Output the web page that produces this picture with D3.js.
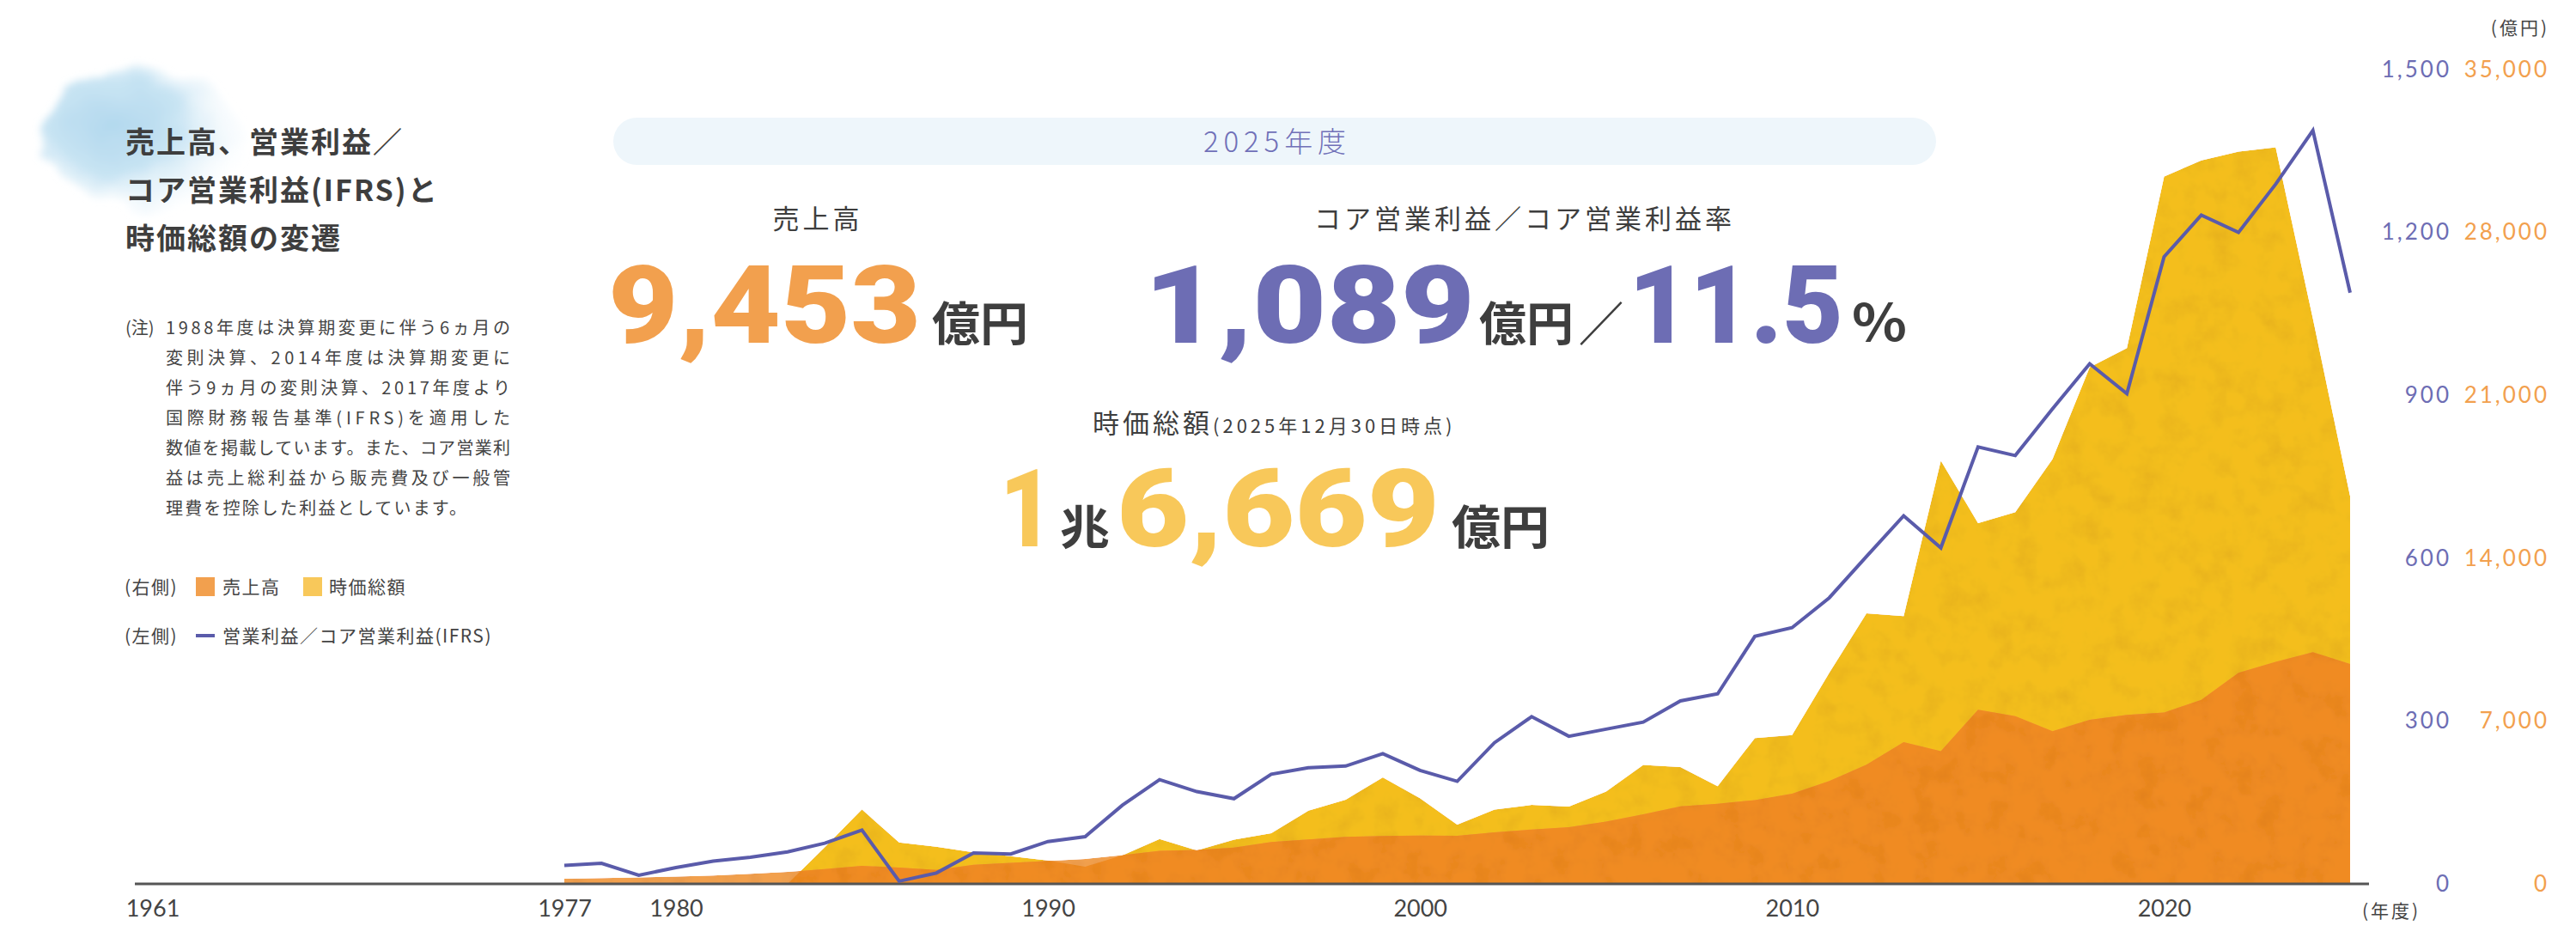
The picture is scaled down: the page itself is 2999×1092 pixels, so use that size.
<!DOCTYPE html>
<html lang="ja">
<head>
<meta charset="utf-8">
<title>売上高、営業利益／コア営業利益(IFRS)と時価総額の変遷</title>
<script src="https://cdn.jsdelivr.net/npm/d3@7"></script>
<style>
  html, body { margin: 0; padding: 0; background: #fff; }
  svg { display: block; }
  text { font-family: "Noto Sans CJK JP", sans-serif; }
</style>
</head>
<body>
<svg id="chart"></svg>
<script>
// 年度
const years = [1977, 1978, 1979, 1980, 1981, 1982, 1983, 1984, 1985, 1986,
  1987, 1988, 1989, 1990, 1991, 1992, 1993, 1994, 1995, 1996,
  1997, 1998, 1999, 2000, 2001, 2002, 2003, 2004, 2005, 2006,
  2007, 2008, 2009, 2010, 2011, 2012, 2013, 2014, 2015, 2016,
  2017, 2018, 2019, 2020, 2021, 2022, 2023, 2024, 2025];

// 売上高（億円・右軸）
const sales = [220, 250, 280, 310, 360, 430, 515, 640, 775, 705,
  600, 825, 900, 985, 1070, 1240, 1420, 1460, 1560, 1800,
  1910, 2020, 2060, 2080, 2066, 2214, 2337, 2435, 2681, 2989,
  3333, 3444, 3600, 3880, 4420, 5120, 6090, 5700, 7490, 7210,
  6560, 7050, 7260, 7370, 7910, 9070, 9540, 9960, 9453];

// 時価総額（億円・右軸）
const marketCap = [null, null, null, null, null, null, 0, 1580, 3200, 1785,
  1600, 1354, 1194, 1010, 740, 1231, 1930, 1440, 1900, 2180,
  3150, 3620, 4580, 3680, 2550, 3198, 3395, 3321, 3973, 5117,
  5018, 4200, 6270, 6400, 9070, 11630, 11510, 18190, 15510, 15980,
  18260, 22210, 23030, 30400, 31100, 31470, 31660, 24300, 16669];

// 営業利益／コア営業利益（億円・左軸）
const opProfit = [34, 38, 16, 30, 42, 49, 59, 75, 99, 5,
  20, 57, 55, 78, 87, 145, 192, 170, 157, 202,
  214, 217, 240, 209, 189, 260, 308, 272, 285, 298,
  337, 350, 456, 472, 527, 603, 678, 619, 805, 789,
  875, 958, 903, 1155, 1232, 1200, 1289, 1388, 1089];

const leftTicks = [0, 300, 600, 900, 1200, 1500];
const rightTicks = [0, 7000, 14000, 21000, 28000, 35000];
const yearTicks = [1977, 1980, 1990, 2000, 2010, 2020];

const titleLines = ["売上高、営業利益／", "コア営業利益(IFRS)と", "時価総額の変遷"];
const noteLines = [
  "1988年度は決算期変更に伴う6ヵ月の",
  "変則決算、2014年度は決算期変更に",
  "伴う9ヵ月の変則決算、2017年度より",
  "国際財務報告基準(IFRS)を適用した",
  "数値を掲載しています。また、コア営業利",
  "益は売上総利益から販売費及び一般管",
  "理費を控除した利益としています。"
];

const width = 2999, height = 1092;
const dark = "#3e3e3e";
const cSales = "#f2a04e", cSalesDeep = "#f08b20", cCap = "#f4be1e", cCapKey = "#f8c85a", cLine = "#5a5baa";
const cLeftTxt = "#6d6db4";

const data = years.map((year, i) => ({
  year,
  sales: sales[i],
  cap: marketCap[i],
  op: opProfit[i]
}));

const svg = d3.select("#chart")
  .attr("width", width)
  .attr("height", height)
  .attr("viewBox", [0, 0, width, height]);

// スケール
const x = d3.scaleLinear([1977, 2025], [657, 2736]);
const yL = d3.scaleLinear([0, 1500], [1029, 81]);
const yR = d3.scaleLinear([0, 35000], [1029, 81]);

const defs = svg.append("defs");

// 水彩っぽいにじみ
const wc = defs.append("filter").attr("id", "wc")
  .attr("x", "-30%").attr("y", "-30%").attr("width", "160%").attr("height", "160%");
wc.append("feTurbulence").attr("type", "fractalNoise").attr("baseFrequency", 0.02)
  .attr("numOctaves", 3).attr("seed", 11).attr("result", "noise");
wc.append("feDisplacementMap").attr("in", "SourceGraphic").attr("in2", "noise")
  .attr("scale", 40).attr("xChannelSelector", "R").attr("yChannelSelector", "G");
wc.append("feGaussianBlur").attr("stdDeviation", 4);

// 面の紙っぽいむら
const tex = defs.append("filter").attr("id", "tex")
  .attr("x", 0).attr("y", 0).attr("width", "100%").attr("height", "100%");
tex.append("feTurbulence").attr("type", "fractalNoise").attr("baseFrequency", 0.035)
  .attr("numOctaves", 4).attr("seed", 3).attr("result", "n");
tex.append("feColorMatrix").attr("in", "n").attr("type", "matrix")
  .attr("values", "0.22 0 0 0 0.87  0.3 0 0 0 0.84  0.3 0 0 0 0.84  0 0 0 0 1")
  .attr("result", "g");
tex.append("feBlend").attr("in", "SourceGraphic").attr("in2", "g").attr("mode", "multiply").attr("result", "b");
tex.append("feComposite").attr("in", "b").attr("in2", "SourceGraphic").attr("operator", "in");

const grad = defs.append("radialGradient").attr("id", "blobGrad")
  .attr("cx", "36%").attr("cy", "42%").attr("r", "64%");
grad.append("stop").attr("offset", "0%").attr("stop-color", "#b2d8ee");
grad.append("stop").attr("offset", "50%").attr("stop-color", "#c8e4f3");
grad.append("stop").attr("offset", "100%").attr("stop-color", "#eef7fc").attr("stop-opacity", 0.1);

svg.append("ellipse")
  .attr("cx", 165).attr("cy", 160).attr("rx", 120).attr("ry", 84)
  .attr("fill", "url(#blobGrad)")
  .attr("filter", "url(#wc)");

// タイトル
svg.append("g")
  .attr("fill", dark)
  .style("font-size", "34px")
  .style("font-weight", 700)
  .style("letter-spacing", "2px")
  .selectAll()
  .data(titleLines)
  .join("text")
  .attr("x", 146)
  .attr("y", (d, i) => 178 + i * 56)
  .text(d => d);

// 注記
svg.append("text")
  .attr("x", 146).attr("y", 389)
  .attr("fill", "#444")
  .style("font-size", "20px")
  .text("(注)");

svg.append("g")
  .attr("fill", "#444")
  .style("font-size", "20px")
  .selectAll()
  .data(noteLines)
  .join("text")
  .attr("x", 193)
  .attr("y", (d, i) => 389 + i * 35)
  .attr("textLength", (d, i) => i < noteLines.length - 1 ? 401 : 350)
  .attr("lengthAdjust", "spacing")
  .text(d => d);

// 凡例
const legend = svg.append("g")
  .attr("fill", "#444")
  .style("font-size", "21px")
  .style("letter-spacing", "1.5px");

legend.append("text").attr("x", 145).attr("y", 691).text("(右側)");
legend.append("rect").attr("x", 228).attr("y", 672).attr("width", 22).attr("height", 22).attr("fill", cSales);
legend.append("text").attr("x", 259).attr("y", 691).text("売上高");
legend.append("rect").attr("x", 353).attr("y", 672).attr("width", 22).attr("height", 22).attr("fill", cCapKey);
legend.append("text").attr("x", 383).attr("y", 691).text("時価総額");
legend.append("text").attr("x", 145).attr("y", 748).text("(左側)");
legend.append("line").attr("x1", 228).attr("x2", 250).attr("y1", 740).attr("y2", 740)
  .attr("stroke", cLine).attr("stroke-width", 4);
legend.append("text").attr("x", 259).attr("y", 748).text("営業利益／コア営業利益(IFRS)");

// 2025年度のハイライト
svg.append("rect")
  .attr("x", 714).attr("y", 137).attr("width", 1540).attr("height", 55).attr("rx", 27.5)
  .attr("fill", "#eef6fb");
svg.append("text")
  .attr("x", 1484).attr("y", 177)
  .attr("text-anchor", "middle")
  .attr("fill", "#7070b8")
  .attr("textLength", 166)
  .attr("lengthAdjust", "spacing")
  .style("font-size", "33px")
  .style("font-weight", 300)
  .text("2025年度");

const label = (tx, ty, s, anchor = "middle") => svg.append("text")
  .attr("x", tx).attr("y", ty)
  .attr("text-anchor", anchor)
  .attr("fill", dark)
  .style("font-size", "31px")
  .style("letter-spacing", "4px")
  .text(s);

label(952, 266, "売上高");
label(1775, 266, "コア営業利益／コア営業利益率");

const bigNum = (tx, ty, s, color, len) => svg.append("text")
  .attr("x", tx).attr("y", ty)
  .attr("fill", color)
  .attr("textLength", len)
  .attr("lengthAdjust", "spacingAndGlyphs")
  .style("font-family", "Roboto, 'Open Sans', sans-serif")
  .style("font-size", "126px")
  .style("font-weight", 900)
  .text(s);

const unit = (tx, ty, s, len, size = 54) => svg.append("text")
  .attr("x", tx).attr("y", ty)
  .attr("fill", dark)
  .attr("textLength", len)
  .attr("lengthAdjust", "spacingAndGlyphs")
  .style("font-size", size + "px")
  .style("font-weight", 700)
  .text(s);

bigNum(708, 399, "9,453", cSales, 364);
unit(1085, 397, "億円", 112);

bigNum(1332, 399, "1,089", cLeftTxt, 385);
unit(1722, 397, "億円", 110);
unit(1838, 397, "／", 52);
bigNum(1896, 399, "11.5", cLeftTxt, 250);
unit(2156, 397, "%", 64, 60);

// 時価総額
svg.append("text")
  .attr("x", 1272).attr("y", 504)
  .attr("fill", dark)
  .style("font-size", "31px")
  .style("letter-spacing", "4px")
  .text("時価総額")
  .append("tspan")
  .style("font-size", "22px")
  .style("letter-spacing", "4px")
  .text("(2025年12月30日時点)");

bigNum(1164, 636, "1", cCapKey, 62);
unit(1234, 634, "兆", 58);
bigNum(1300, 636, "6,669", cCapKey, 376);
unit(1690, 634, "億円", 114);

// 面グラフ
const capArea = d3.area()
  .defined(d => d.cap != null)
  .x(d => x(d.year))
  .y0(yR(0))
  .y1(d => yR(d.cap));

const salesArea = d3.area()
  .x(d => x(d.year))
  .y0(yR(0))
  .y1(d => yR(d.sales));

defs.append("clipPath").attr("id", "capClip")
  .append("path").attr("d", capArea(data));

const areas = svg.append("g").attr("filter", "url(#tex)");

areas.append("path")
  .datum(data)
  .attr("fill", cCap)
  .attr("d", capArea);

areas.append("path")
  .datum(data)
  .attr("fill", cSales)
  .attr("d", salesArea);

// 時価総額と重なる部分は濃いオレンジ
areas.append("path")
  .datum(data)
  .attr("fill", cSalesDeep)
  .attr("clip-path", "url(#capClip)")
  .attr("d", salesArea);

// 基準線
svg.append("line")
  .attr("x1", 157).attr("x2", 2758)
  .attr("y1", yL(0)).attr("y2", yL(0))
  .attr("stroke", "#555")
  .attr("stroke-width", 3);

// 営業利益の折れ線
svg.append("path")
  .datum(data)
  .attr("fill", "none")
  .attr("stroke", cLine)
  .attr("stroke-width", 4)
  .attr("stroke-linejoin", "miter")
  .attr("d", d3.line().x(d => x(d.year)).y(d => yL(d.op)));

// 左軸（営業利益）
svg.append("g")
  .attr("transform", "translate(2854,0)")
  .call(d3.axisLeft(yL).tickValues(leftTicks).tickSize(0).tickPadding(0).tickFormat(d3.format(",")))
  .call(g => g.select(".domain").remove())
  .call(g => g.selectAll("text")
    .attr("fill", cLeftTxt)
    .style("font-family", "Lato, sans-serif")
    .style("font-size", "26px")
    .style("letter-spacing", "3px"));

// 右軸（売上高・時価総額）
svg.append("g")
  .attr("transform", "translate(2968,0)")
  .call(d3.axisLeft(yR).tickValues(rightTicks).tickSize(0).tickPadding(0).tickFormat(d3.format(",")))
  .call(g => g.select(".domain").remove())
  .call(g => g.selectAll("text")
    .attr("fill", cSales)
    .style("font-family", "Lato, sans-serif")
    .style("font-size", "26px")
    .style("letter-spacing", "3px"));

// 年度の軸
svg.append("g")
  .attr("transform", `translate(0,${yL(0)})`)
  .call(d3.axisBottom(x).tickValues(yearTicks).tickSize(0).tickPadding(19).tickFormat(d3.format("d")))
  .call(g => g.select(".domain").remove())
  .call(g => g.selectAll("text")
    .attr("fill", "#444")
    .style("font-family", "Lato, sans-serif")
    .style("font-size", "27px"));

// 創業年（軸は省略されている）
svg.append("text")
  .attr("x", 178).attr("y", 1067)
  .attr("text-anchor", "middle")
  .attr("fill", "#444")
  .style("font-family", "Lato, sans-serif")
  .style("font-size", "27px")
  .text("1961");

svg.append("text")
  .attr("x", 2968).attr("y", 40)
  .attr("text-anchor", "end")
  .attr("fill", "#444")
  .style("font-size", "21px")
  .style("letter-spacing", "3px")
  .text("(億円)");

svg.append("text")
  .attr("x", 2750).attr("y", 1068)
  .attr("fill", "#444")
  .style("font-size", "21px")
  .style("letter-spacing", "3px")
  .text("(年度)");
</script>
</body>
</html>
